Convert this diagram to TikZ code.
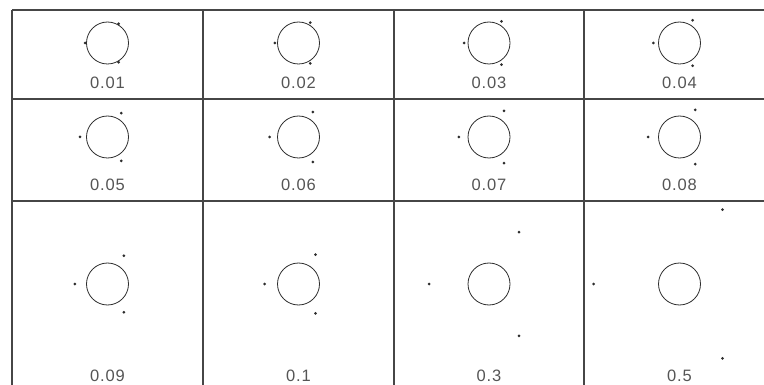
\documentclass[tikz,border=0pt]{standalone}
\usepackage{fontspec}
\setmainfont{Liberation Sans}
\newfontfamily\capfont[LetterSpace=5]{Liberation Sans}
\usetikzlibrary{positioning}
\definecolor{gridc}{RGB}{70,70,70}
\definecolor{ringc}{RGB}{45,45,45}
\definecolor{txtc}{RGB}{85,85,85}
\begin{document}
\begin{tikzpicture}[x=1pt, y=-1pt,
    cellline/.style={draw=gridc, line width=1.3pt},
    ring/.style={draw=ringc, circle, line width=0.8pt, minimum size=42pt, inner sep=0pt},
    spot/.style={fill=ringc, circle, minimum size=3pt, inner sep=0pt},
    caption/.style={font=\capfont\fontsize{16.5}{16.5}\selectfont, text=txtc, inner sep=0pt}]
    \useasboundingbox (0,0) rectangle (764,385);
    \clip (0,0) rectangle (764,385);
    % table lines
    \foreach \xx in {12,203,394,584}
        \draw[cellline] (\xx,10) -- (\xx,395);
    \foreach \yy in {10,99,201}
        \draw[cellline] (12,\yy) -- (780,\yy);
    % one ring per cell, spots at 180, 60, -60
    \foreach \val/\cx/\cy/\ly [count=\i] in {0.01/107.5/43/83, 0.02/298.5/43/83, 0.03/489/43/83, 0.04/679.5/43/83,
        0.05/107.5/137/185, 0.06/298.5/137/185, 0.07/489/137/185, 0.08/679.5/137/185,
        0.09/107.5/284/376, 0.1/298.5/284/376, 0.3/489/284/376, 0.5/679.5/284/376}
    {
        \pgfmathsetmacro\dist{21+130*\val}
        \node[ring] (ring\i) at (\cx,\cy) {};
        \node[spot] (left\i) at ([shift={(180:\dist)}]ring\i.center) {};
        \node[spot] (upper\i) at ([shift={(-60:\dist)}]ring\i.center) {};
        \node[spot] (lower\i) at ([shift={(60:\dist)}]ring\i.center) {};
        \node[caption] (lab\i) at (\cx,\ly) {\val};
    }
\end{tikzpicture}
\end{document}
